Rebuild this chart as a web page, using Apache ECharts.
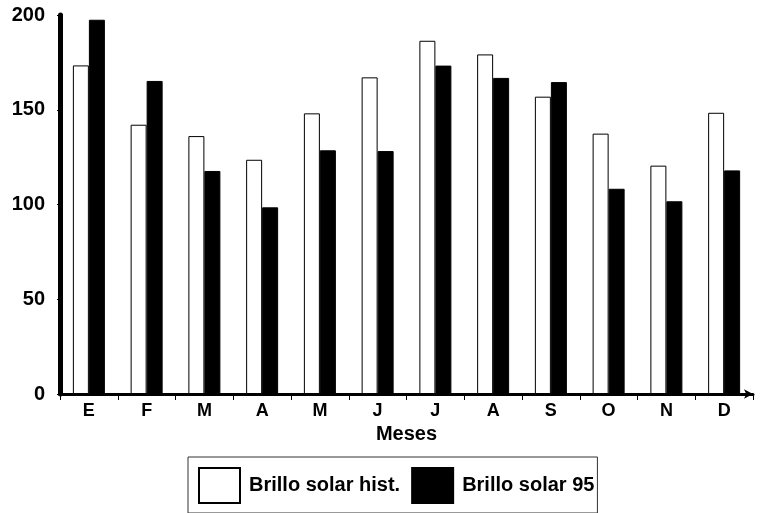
<!DOCTYPE html>
<html><head><meta charset="utf-8">
<script src="https://cdn.jsdelivr.net/npm/echarts@6/dist/echarts.min.js"></script>
<style>html,body{margin:0;padding:0;background:#fff}#c{width:760px;height:513px}</style>
</head><body><div id="c"></div>
<script>
const months = ['E','F','M','A','M','J','J','A','S','O','N','D'];
const histValues = [173.4,142.1,136.1,123.6,148.1,167.1,186.4,179.2,156.9,137.4,120.5,148.4];
const y95Values = [197.5,165.2,117.7,98.5,128.6,128.2,173.3,166.8,164.6,108.3,101.7,118.0];
const yTicks = [0,50,100,150,200];
const seriesNames = ['Brillo solar hist.','Brillo solar 95'];
const axisTitle = 'Meses';

const font = 'Liberation Sans, Arial, sans-serif';
const chart = echarts.init(document.getElementById('c'));
chart.setOption({
  animation:false,
  backgroundColor:'#fff',
  grid:{left:60,right:7,top:15,bottom:119},
  legend:{
    left:188, top:457,
    padding:[10,3,9,10],
    borderColor:'#333', borderWidth:1,
    icon:'rect',
    itemWidth:41, itemHeight:35, itemGap:11,
    textStyle:{fontFamily:font,fontWeight:'bold',fontSize:20,color:'#000',padding:[0,0,0,4]},
    data:seriesNames
  },
  xAxis:{
    type:'category', data:months,
    name:axisTitle, nameLocation:'middle', nameGap:30,
    nameTextStyle:{fontFamily:font,fontWeight:'bold',fontSize:20,color:'#000'},
    axisLine:{lineStyle:{color:'#000',width:3},symbol:['none','arrow'],symbolSize:[7,9]},
    axisTick:{show:true,alignWithLabel:false,length:6,lineStyle:{color:'#000',width:1}},
    axisLabel:{fontFamily:font,fontWeight:'bold',fontSize:18,color:'#000',margin:8}
  },
  yAxis:{
    type:'value', min:0, max:200, interval:50,
    axisLine:{show:true,lineStyle:{color:'#000',width:5}},
    axisTick:{show:true,length:3,lineStyle:{color:'#000',width:1}},
    splitLine:{show:false},
    axisLabel:{fontFamily:font,fontWeight:'bold',fontSize:20,color:'#000',margin:15,
      formatter:v=>yTicks.includes(v)?String(v):''}
  },
  series:[
    {name:seriesNames[0],type:'bar',data:histValues,barWidth:16,barGap:'0%',
     itemStyle:{color:'#fff',borderColor:'#000',borderWidth:1}},
    {name:seriesNames[1],type:'bar',data:y95Values,barWidth:16,barGap:'0%',
     itemStyle:{color:'#000',borderColor:'#000',borderWidth:1}}
  ]
});
</script></body></html>
